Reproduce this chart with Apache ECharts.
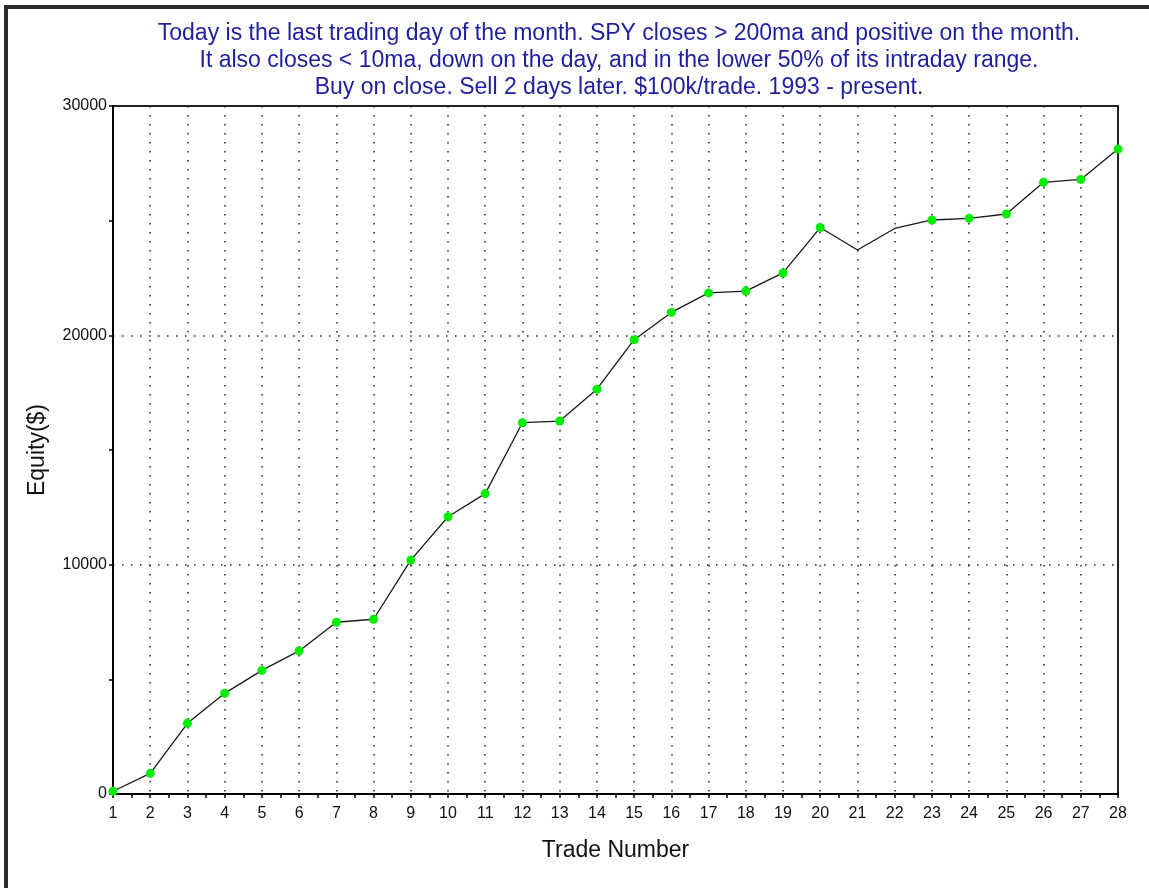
<!DOCTYPE html>
<html>
<head>
<meta charset="utf-8">
<script src="https://cdn.jsdelivr.net/npm/echarts@6/dist/echarts.min.js"></script>
<style>
html, body { margin: 0; padding: 0; background: #fff; }
#chart { width: 1149px; height: 888px; }
</style>
</head>
<body>
<div id="chart"></div>
<script>
// trade number -> cumulative equity ($)
const tradeNumbers = [1, 2, 3, 4, 5, 6, 7, 8, 9, 10, 11, 12, 13, 14, 15, 16, 17, 18, 19, 20, 21, 22, 23, 24, 25, 26, 27, 28];
const equity = [120, 900, 3080, 4390, 5390, 6240, 7490, 7620, 10200, 12090, 13100, 16190, 16260, 17650, 19810, 21000,
  21850, 21930, 22720, 24700, 23720, 24660, 25030, 25100, 25290, 26670, 26800, 28120];
const yTicks = [0, 10000, 20000, 30000];
const titleLines = [
  'Today is the last trading day of the month. SPY closes > 200ma and positive on the month.',
  'It also closes < 10ma, down on the day, and in the lower 50% of its intraday range.',
  'Buy on close. Sell 2 days later. $100k/trade. 1993 - present.'
];

const chart = echarts.init(document.getElementById('chart'));

// green dot only where equity makes a new high
let runMax = -Infinity;
const points = tradeNumbers.map(function (t, i) {
  const v = equity[i];
  const isHigh = v > runMax;
  if (isHigh) runMax = v;
  return { value: [t, v], symbolSize: isHigh ? 9 : 0 };
});

const font = 'Liberation Sans, Arial, sans-serif';

const option = {
  backgroundColor: '#fff',
  animation: false,
  title: {
    text: titleLines.join('\n'),
    left: 614,
    top: 15,
    textAlign: 'center',
    textStyle: {
      color: '#1e1e9e',
      fontFamily: font,
      fontWeight: 'normal',
      fontSize: 23,
      lineHeight: 27
    }
  },
  graphic: [
    { type: 'rect', shape: { x: 4, y: 5, width: 4, height: 883 }, style: { fill: '#2b2b2b' } },
    { type: 'rect', shape: { x: 4, y: 5, width: 1145, height: 4 }, style: { fill: '#2b2b2b' } }
  ],
  grid: {
    left: 113,
    right: 31,
    top: 106,
    bottom: 94,
    show: true,
    borderColor: '#222',
    borderWidth: 2,
    backgroundColor: '#fff'
  },
  xAxis: {
    type: 'value',
    min: 1,
    max: 28,
    interval: 1,
    name: 'Trade Number',
    nameLocation: 'middle',
    nameGap: 45,
    nameTextStyle: { color: '#111', fontFamily: font, fontSize: 23 },
    axisLine: { show: true, onZero: false, lineStyle: { color: '#000', width: 2 } },
    axisTick: { show: true, length: 4, lineStyle: { color: '#000', width: 1.5 } },
    minorTick: { show: true, splitNumber: 2, length: 4, lineStyle: { color: '#000', width: 1.5 } },
    axisLabel: { color: '#111', fontFamily: font, fontSize: 16, margin: 12 },
    splitLine: {
      show: true,
      showMinLine: false,
      showMaxLine: false,
      lineStyle: { color: '#222', width: 1.5, type: [1.5, 7.5] }
    }
  },
  yAxis: {
    type: 'value',
    min: 0,
    max: 30000,
    interval: 10000,
    name: 'Equity($)',
    nameLocation: 'middle',
    nameGap: 64,
    nameTextStyle: { color: '#111', fontFamily: font, fontSize: 23 },
    axisLine: { show: true, lineStyle: { color: '#000', width: 2 } },
    axisTick: { show: true, length: 4, lineStyle: { color: '#000', width: 1.5 } },
    minorTick: { show: true, splitNumber: 2, length: 4, lineStyle: { color: '#000', width: 1.5 } },
    axisLabel: {
      color: '#111',
      fontFamily: font,
      fontSize: 16,
      margin: 6,
      formatter: function (v) { return yTicks.indexOf(v) >= 0 ? String(v) : ''; }
    },
    splitLine: {
      show: true,
      showMinLine: false,
      showMaxLine: false,
      lineStyle: { color: '#222', width: 1.5, type: [1.5, 7.5] }
    }
  },
  series: [
    {
      type: 'line',
      data: points,
      symbol: 'circle',
      itemStyle: { color: '#00ee00', borderWidth: 0 },
      lineStyle: { color: '#1a1a1a', width: 1.3 },
      z: 5
    }
  ]
};

chart.setOption(option);
</script>
</body>
</html>
